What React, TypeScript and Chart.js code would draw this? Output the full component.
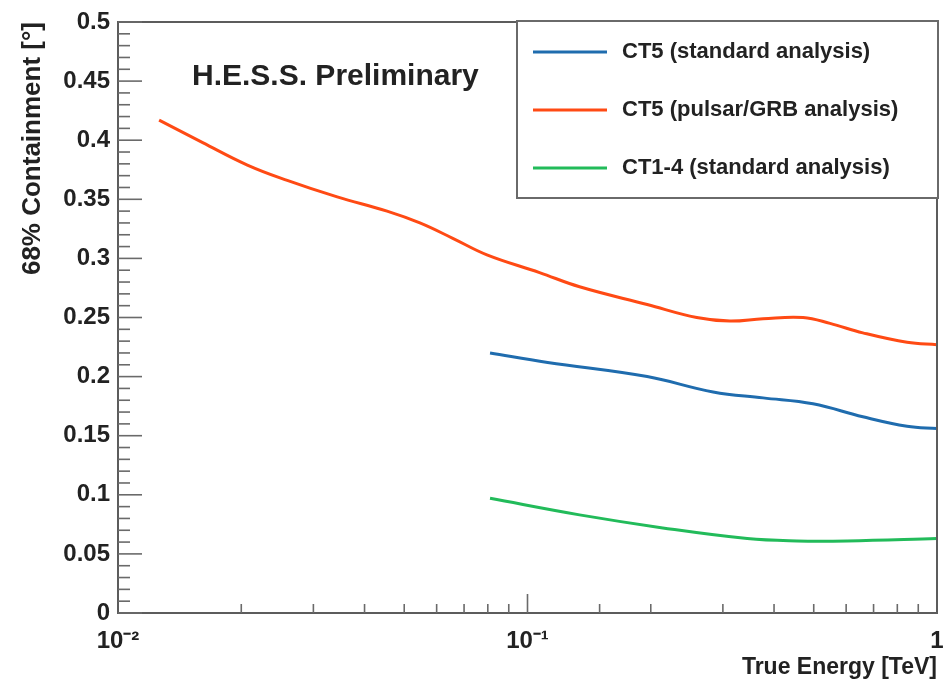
import React, { useEffect, useRef } from "react";
import { Chart, registerables } from "chart.js";

Chart.register(...registerables);

// ---- data ----
const pulsarEnergy = [0.0126, 0.0161, 0.0207, 0.0259, 0.0343, 0.0454, 0.0546, 0.0657, 0.0796, 0.107, 0.134, 0.196, 0.259, 0.312, 0.376, 0.471, 0.548, 0.659, 0.845, 1.0];
const pulsarPsf = [0.417, 0.398, 0.379, 0.366, 0.352, 0.340, 0.330, 0.317, 0.303, 0.288, 0.276, 0.261, 0.250, 0.247, 0.249, 0.250, 0.245, 0.237, 0.229, 0.227];

const ct5Energy = [0.081, 0.112, 0.196, 0.284, 0.376, 0.498, 0.659, 0.845, 1.0];
const ct5Psf = [0.220, 0.212, 0.200, 0.187, 0.182, 0.177, 0.166, 0.158, 0.156];

const ct14Energy = [0.081, 0.134, 0.214, 0.344, 0.455, 0.603, 1.0];
const ct14Psf = [0.097, 0.083, 0.072, 0.063, 0.061, 0.061, 0.063];

const seriesLabels = ["CT5 (standard analysis)", "CT5 (pulsar/GRB analysis)", "CT1-4 (standard analysis)"];
const seriesColors = ["#1f6cae", "#ff4a14", "#22bb5a"];

const decadeValues = [0.01, 0.1, 1];
const decadeLabels = ["10\u207B\u00B2", "10\u207B\u00B9", "1"];

const xTitle = "True Energy [TeV]";
const yTitle = "68% Containment [\u00B0]";
const watermark = "H.E.S.S. Preliminary";

const FONT = "'Liberation Sans', Arial, Helvetica, sans-serif";

const toPoints = (xs: number[], ys: number[]) => xs.map((x, i) => ({ x, y: ys[i] }));

const isDecade = (v: number) => Math.abs(Math.log10(v) - Math.round(Math.log10(v))) < 1e-6;

const framePlugin = {
  id: "frameTicks",
  afterDatasetsDraw(chart: any) {
    const { ctx, chartArea: a, scales } = chart;
    const x = scales.x;
    const y = scales.y;
    ctx.save();
    ctx.strokeStyle = "#5c5c5c";
    ctx.lineWidth = 2;
    ctx.strokeRect(a.left, a.top, a.right - a.left, a.bottom - a.top);
    ctx.lineWidth = 1.6;
    ctx.strokeStyle = "#6a6a6a";
    for (let i = 0; i <= 50; i++) {
      const py = y.getPixelForValue(i / 100);
      const len = i % 5 === 0 ? 24 : 12;
      ctx.beginPath();
      ctx.moveTo(a.left, py);
      ctx.lineTo(a.left + len, py);
      ctx.stroke();
    }
    x.ticks.forEach((t: any) => {
      const px = x.getPixelForValue(t.value);
      if (px <= a.left + 1 || px >= a.right - 1) return;
      const len = isDecade(t.value) ? 19 : 9;
      ctx.beginPath();
      ctx.moveTo(px, a.bottom);
      ctx.lineTo(px, a.bottom - len);
      ctx.stroke();
    });
    ctx.restore();
  },
};

const legendPlugin = {
  id: "rootLegend",
  afterDraw(chart: any) {
    const { ctx } = chart;
    ctx.save();
    // watermark
    ctx.fillStyle = "#222";
    ctx.font = `bold 30px ${FONT}`;
    ctx.textBaseline = "middle";
    ctx.textAlign = "left";
    ctx.fillText(watermark, 192, 77);
    // legend box
    const bx = 517, by = 21, bw = 421, bh = 177;
    ctx.fillStyle = "#ffffff";
    ctx.fillRect(bx, by, bw, bh);
    ctx.strokeStyle = "#6a6a6a";
    ctx.lineWidth = 2;
    ctx.strokeRect(bx, by, bw, bh);
    const rowsY = [52, 110, 168];
    ctx.font = `bold 22px ${FONT}`;
    chart.data.datasets.forEach((ds: any, r: number) => {
      ctx.strokeStyle = ds.borderColor;
      ctx.lineWidth = 3;
      ctx.beginPath();
      ctx.moveTo(533, rowsY[r]);
      ctx.lineTo(607, rowsY[r]);
      ctx.stroke();
      ctx.fillStyle = "#222";
      ctx.fillText(ds.label, 622, rowsY[r]);
    });
    ctx.restore();
  },
};

export default function App() {
  const ref = useRef<HTMLCanvasElement | null>(null);

  useEffect(() => {
    if (!ref.current) return;
    const chart = new Chart(ref.current, {
      type: "line",
      data: {
        datasets: [
          { label: seriesLabels[0], data: toPoints(ct5Energy, ct5Psf), borderColor: seriesColors[0] },
          { label: seriesLabels[1], data: toPoints(pulsarEnergy, pulsarPsf), borderColor: seriesColors[1] },
          { label: seriesLabels[2], data: toPoints(ct14Energy, ct14Psf), borderColor: seriesColors[2] },
        ].map((d) => ({
          ...d,
          borderWidth: 3,
          pointRadius: 0,
          fill: false,
          tension: 0.4,
        })),
      },
      options: {
        responsive: false,
        animation: false,
        devicePixelRatio: 1,
        layout: { padding: { top: 22, right: 9, left: 0, bottom: 0 } },
        plugins: { legend: { display: false }, tooltip: { enabled: false } },
        scales: {
          x: {
            type: "logarithmic",
            min: 0.01,
            max: 1,
            grid: { display: false, drawTicks: false },
            border: { display: false },
            ticks: {
              autoSkip: false,
              maxRotation: 0,
              padding: 14,
              color: "#222",
              font: { family: FONT, size: 24, weight: "bold" },
              callback: (v: any) => {
                const i = decadeValues.findIndex((d) => Math.abs(Math.log10(Number(v)) - Math.log10(d)) < 1e-6);
                return i >= 0 ? decadeLabels[i] : "";
              },
            },
            title: {
              display: true,
              text: xTitle,
              align: "end",
              color: "#222",
              font: { family: FONT, size: 23, weight: "bold" },
              padding: { top: 0, bottom: 3 },
            },
            afterFit: (s: any) => {
              s.height = 71;
              s.paddingLeft = 0;
              s.paddingRight = 0;
            },
          },
          y: {
            min: 0,
            max: 0.5,
            grid: { display: false, drawTicks: false },
            border: { display: false },
            ticks: {
              stepSize: 0.05,
              padding: 8,
              color: "#222",
              font: { family: FONT, size: 24, weight: "bold" },
              callback: (v: any) => String(+Number(v).toFixed(2)),
            },
            title: {
              display: true,
              text: yTitle,
              align: "end",
              color: "#222",
              font: { family: FONT, size: 26, weight: "bold" },
              padding: { top: 17, bottom: 0 },
            },
            afterFit: (s: any) => {
              s.width = 118;
              s.paddingTop = 0;
              s.paddingBottom = 0;
            },
          },
        },
      } as any,
      plugins: [framePlugin, legendPlugin],
    });
    return () => chart.destroy();
  }, []);

  return (
    <div style={{ position: "absolute", left: 0, top: 0, width: 946, height: 684, background: "#fff" }}>
      <canvas ref={ref} width={946} height={684} style={{ display: "block" }} />
    </div>
  );
}
